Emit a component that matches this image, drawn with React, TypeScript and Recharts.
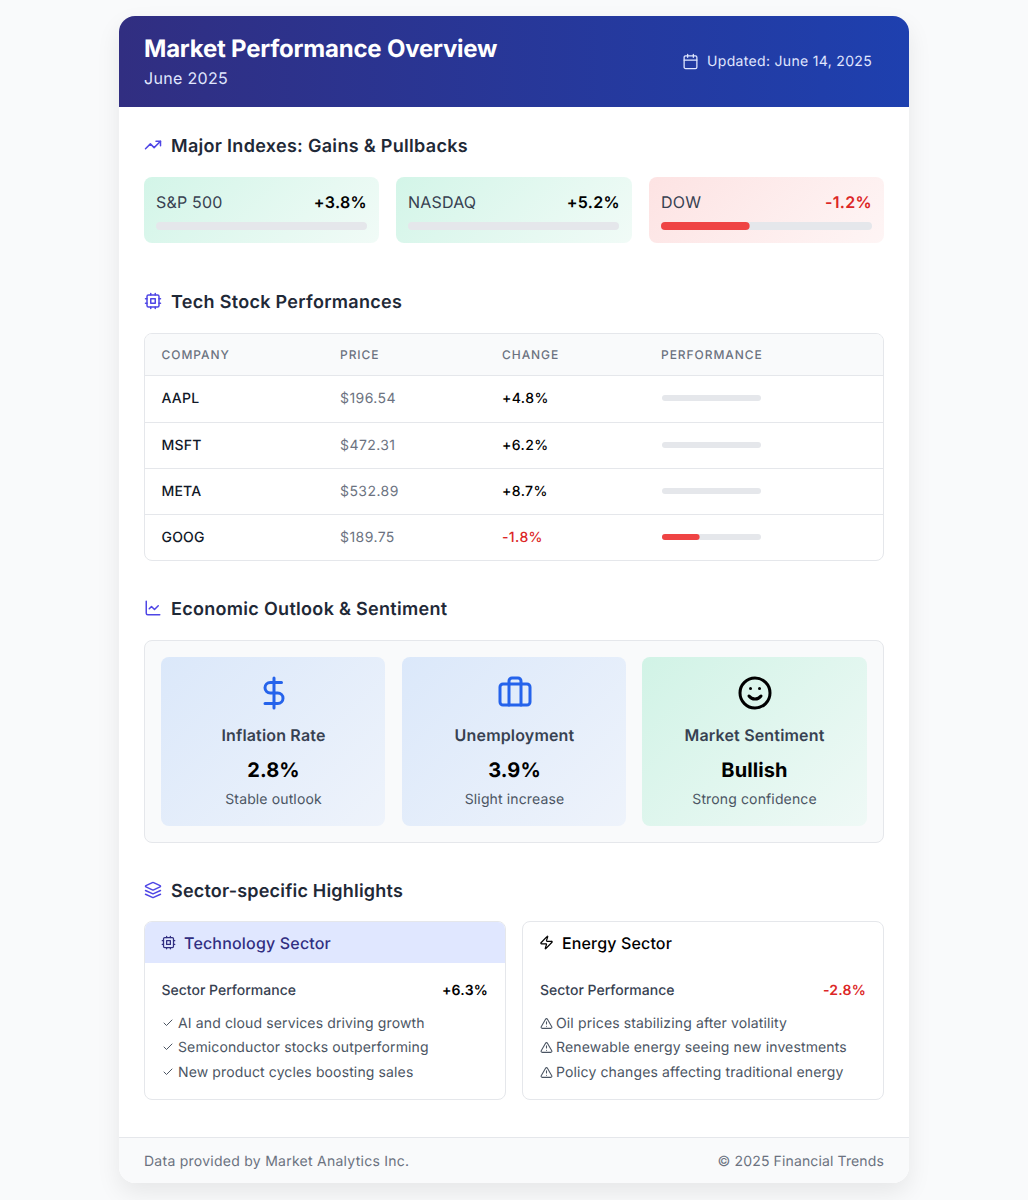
import React from "react";
import { Bar, BarChart, XAxis, YAxis } from "recharts";

const indexNames = ["S&P 500", "NASDAQ", "DOW"];
const indexChanges = ["+3.8%", "+5.2%", "-1.2%"];
const indexFills = [0, 0, 42];

const stockNames = ["AAPL", "MSFT", "META", "GOOG"];
const stockPrices = ["$196.54", "$472.31", "$532.89", "$189.75"];
const stockChanges = ["+4.8%", "+6.2%", "+8.7%", "-1.8%"];
const stockFills = [0, 0, 0, 38];
const tableHeaders = ["Company", "Price", "Change", "Performance"];

const outlookNames = ["Inflation Rate", "Unemployment", "Market Sentiment"];
const outlookValues = ["2.8%", "3.9%", "Bullish"];
const outlookNotes = ["Stable outlook", "Slight increase", "Strong confidence"];

const techPoints = [
  "AI and cloud services driving growth",
  "Semiconductor stocks outperforming",
  "New product cycles boosting sales",
];
const energyPoints = [
  "Oil prices stabilizing after volatility",
  "Renewable energy seeing new investments",
  "Policy changes affecting traditional energy",
];

const FONT = "Inter, sans-serif";
const RED = "#dc2626";

const sizeNudge = (size: number) => (size === 16 || size === 24 || size === 20 ? 0 : size === 18 ? 1.5 : 1);

// text placed by its vertical centre
const T = ({ x, right, cy, size, weight = 400, color = "#000", spacing, center, children }: any) => (
  <div
    style={{
      position: "absolute",
      left: center !== undefined ? center - 150 : x,
      right: right !== undefined ? 1028 - right : undefined,
      width: center !== undefined ? 300 : undefined,
      textAlign: center !== undefined ? "center" : undefined,
      top: cy - 15 + sizeNudge(size),
      height: 30,
      lineHeight: "30px",
      fontSize: size,
      fontWeight: weight,
      color,
      letterSpacing: spacing,
      whiteSpace: "nowrap",
    }}
  >
    {children}
  </div>
);

const Box = ({ x, y, w, h, style, children }: any) => (
  <div style={{ position: "absolute", left: x, top: y, width: w, height: h, boxSizing: "border-box", ...style }}>
    {children}
  </div>
);

const ProgressBar = ({ x, y, width, height, value }: any) => (
  <div style={{ position: "absolute", left: x, top: y, width, height }}>
    <BarChart
      width={width}
      height={height}
      layout="vertical"
      data={[{ name: "fill", track: 100, value }]}
      margin={{ top: 0, right: 0, bottom: 0, left: 0 }}
      barCategoryGap={0}
      barGap="-100%"
    >
      <XAxis type="number" domain={[0, 100]} hide />
      <YAxis type="category" dataKey="name" hide />
      <Bar dataKey="track" fill="#e5e7eb" radius={height / 2} isAnimationActive={false} />
      <Bar dataKey="value" fill="#ef4444" radius={height / 2} isAnimationActive={false} />
    </BarChart>
  </div>
);

const Icon = ({ x, y, size, color, width = 2, children }: any) => (
  <svg
    style={{ position: "absolute", left: x, top: y }}
    width={size}
    height={size}
    viewBox="0 0 24 24"
    fill="none"
    stroke={color}
    strokeWidth={width}
    strokeLinecap="round"
    strokeLinejoin="round"
  >
    {children}
  </svg>
);

const cpu = (
  <>
    <rect x="4" y="4" width="16" height="16" rx="2" />
    <rect x="9" y="9" width="6" height="6" />
    <path d="M15 2v2M15 20v2M2 15h2M2 9h2M20 15h2M20 9h2M9 2v2M9 20v2" />
  </>
);
const check = <path d="M20 6 9 17l-5-5" />;
const warning = (
  <>
    <path d="m21.73 18-8-14a2 2 0 0 0-3.48 0l-8 14A2 2 0 0 0 4 21h16a2 2 0 0 0 1.73-3Z" />
    <path d="M12 9v4M12 17h.01" />
  </>
);
const outlookIcons = [
  <>
    <path d="M12 2v20" />
    <path d="M17 5H9.5a3.5 3.5 0 0 0 0 7h5a3.5 3.5 0 0 1 0 7H6" />
  </>,
  <>
    <path d="M16 20V4a2 2 0 0 0-2-2h-4a2 2 0 0 0-2 2v16" />
    <rect x="2" y="6" width="20" height="14" rx="2" />
  </>,
  <>
    <circle cx="12" cy="12" r="10" />
    <path d="M8 14s1.5 2 4 2 4-2 4-2M9 9h.01M15 9h.01" />
  </>,
];

const sectionTitle = (text: string, cy: number, icon: any, spacing = 0.3) => (
  <>
    <Icon x={144} y={cy - 9} size={18} color="#4f46e5">
      {icon}
    </Icon>
    <T x={171} cy={cy} size={18} weight={600} color="#1f2937" spacing={spacing}>
      {text}
    </T>
  </>
);

const indexX = [144, 396, 649];
const columnX = [161.5, 340, 502, 661];
const rowCy = [398, 445, 491, 537];
const outlookX = [161, 402, 642];

export default function App() {
  return (
    <div
      style={{
        position: "absolute",
        left: 0,
        top: 0,
        width: 1028,
        height: 1200,
        overflow: "hidden",
        background: "#f9fafb",
        fontFamily: FONT,
        textRendering: "geometricPrecision",
      }}
    >
      <Box
        x={119}
        y={16}
        w={790}
        h={1167}
        style={{
          background: "#fff",
          borderRadius: 16,
          boxShadow: "0 10px 25px rgba(0,0,0,0.08)",
        }}
      />
      <Box
        x={119}
        y={16}
        w={790}
        h={91}
        style={{
          background: "linear-gradient(90deg, #312e81, #1e40af)",
          borderRadius: "16px 16px 0 0",
        }}
      />
      <T x={144} cy={49} size={24} weight={700} color="#fff" spacing={-0.22}>
        Market Performance Overview
      </T>
      <T x={144} cy={78} size={16} color="#e0e7ff" spacing={0.33}>
        June 2025
      </T>
      <Icon x={682} y={53} size={17} color="#e0e7ff" width={1.8}>
        <path d="M8 2v4M16 2v4M3 10h18" />
        <rect x="3" y="4" width="18" height="18" rx="2" />
      </Icon>
      <T right={872} cy={61} size={14} color="#e0e7ff" spacing={0.32}>
        Updated: June 14, 2025
      </T>

      {sectionTitle("Major Indexes: Gains & Pullbacks", 145, (
        <>
          <path d="M22 7 13.5 15.5 8.5 10.5 2 17" />
          <path d="M16 7h6v6" />
        </>
      ))}
      {indexNames.map((name, i) => {
        const down = indexChanges[i].startsWith("-");
        return (
          <React.Fragment key={name}>
            <Box
              x={indexX[i]}
              y={177}
              w={i === 1 ? 236 : 235}
              h={66}
              style={{
                borderRadius: 8,
                background: down
                  ? "linear-gradient(135deg, #fde3e3, #fef5f5)"
                  : "linear-gradient(135deg, #d3f5e8, #f1fbf7)",
              }}
            />
            <T x={indexX[i] + 12} cy={202} size={16} color="#374151" spacing={0.2}>
              {name}
            </T>
            <T right={indexX[i] + (i === 1 ? 224 : 223)} cy={202} size={16} weight={600} color={down ? RED : "#000"} spacing={0.35}>
              {indexChanges[i]}
            </T>
            <ProgressBar x={indexX[i] + 12} y={222} width={211} height={8} value={indexFills[i]} />
          </React.Fragment>
        );
      })}

      {sectionTitle("Tech Stock Performances", 301, cpu)}
      <Box
        x={144}
        y={333}
        w={740}
        h={228}
        style={{ border: "1px solid #e5e7eb", borderRadius: 8, overflow: "hidden" }}
      >
        <div style={{ height: 41, background: "#f9fafb", borderBottom: "1px solid #e5e7eb" }} />
      </Box>
      {tableHeaders.map((h, i) => (
        <T key={h} x={columnX[i]} cy={354} size={12} weight={500} color="#6b7280" spacing={0.95}>
          {h.toUpperCase()}
        </T>
      ))}
      {stockNames.map((name, i) => {
        const down = stockChanges[i].startsWith("-");
        return (
          <React.Fragment key={name}>
            {i > 0 && <Box x={145} y={rowCy[i] - 23} w={738} h={1} style={{ background: "#e5e7eb" }} />}
            <T x={columnX[0]} cy={rowCy[i]} size={14} weight={500} color="#111827" spacing={0.2}>
              {name}
            </T>
            <T x={columnX[1]} cy={rowCy[i]} size={14} color="#6b7280" spacing={0.43}>
              {stockPrices[i]}
            </T>
            <T x={columnX[2]} cy={rowCy[i]} size={14} weight={500} color={down ? RED : "#000"} spacing={0.4}>
              {stockChanges[i]}
            </T>
            <ProgressBar x={662} y={rowCy[i] - 3} width={99} height={6} value={stockFills[i]} />
          </React.Fragment>
        );
      })}

      {sectionTitle("Economic Outlook & Sentiment", 608, (
        <>
          <path d="M3 3v16a2 2 0 0 0 2 2h16" />
          <path d="m19 9-5 5-4-4-3 3" />
        </>
      ))}
      <Box
        x={144}
        y={640}
        w={740}
        h={203}
        style={{ border: "1px solid #e5e7eb", borderRadius: 8, background: "#f9fafb" }}
      />
      {outlookNames.map((name, i) => {
        const c = outlookX[i] + 112.5;
        return (
          <React.Fragment key={name}>
            <Box
              x={outlookX[i]}
              y={657}
              w={i === 2 ? 225 : 224}
              h={169}
              style={{
                borderRadius: 8,
                background:
                  i === 2
                    ? "linear-gradient(135deg, #d1f3e6, #eff9f6)"
                    : "linear-gradient(135deg, #dbe8fa, #eef3fb)",
              }}
            />
            <Icon x={c - 18} y={675} size={36} color={i === 2 ? "#000" : "#2563eb"}>
              {outlookIcons[i]}
            </Icon>
            <T center={c} cy={735} size={16} weight={600} color="#374151" spacing={0.17}>
              {name}
            </T>
            <T center={c} cy={770} size={20} weight={700} color="#000" spacing={0.1}>
              {outlookValues[i]}
            </T>
            <T center={c} cy={799} size={14} color="#4b5563" spacing={0.13}>
              {outlookNotes[i]}
            </T>
          </React.Fragment>
        );
      })}

      {sectionTitle("Sector-specific Highlights", 890, (
        <>
          <path d="m12.83 2.18a2 2 0 0 0-1.66 0L2.6 6.08a1 1 0 0 0 0 1.83l8.58 3.91a2 2 0 0 0 1.66 0l8.58-3.9a1 1 0 0 0 0-1.83Z" />
          <path d="m22 17.65-9.17 4.16a2 2 0 0 1-1.66 0L2 17.65" />
          <path d="m22 12.65-9.17 4.16a2 2 0 0 1-1.66 0L2 12.65" />
        </>
      ), 0.2)}
      <Box x={144} y={921} w={362} h={179} style={{ border: "1px solid #e5e7eb", borderRadius: 8, overflow: "hidden" }}>
        <div style={{ height: 42, background: "#e0e7ff", margin: -1 }} />
      </Box>
      <Box x={522} y={921} w={362} h={179} style={{ border: "1px solid #e5e7eb", borderRadius: 8 }} />
      <Icon x={161} y={935} size={15} color="#312e81">
        {cpu}
      </Icon>
      <T x={184} cy={943} size={16} weight={500} color="#312e81" spacing={0.18}>
        Technology Sector
      </T>
      <Icon x={539} y={935} size={15} color="#000">
        <path d="M4 14a1 1 0 0 1-.78-1.63l9.9-10.2a.5.5 0 0 1 .86.46l-1.92 6.02A1 1 0 0 0 13 10h7a1 1 0 0 1 .78 1.63l-9.9 10.2a.5.5 0 0 1-.86-.46l1.92-6.02A1 1 0 0 0 11 14z" />
      </Icon>
      <T x={562} cy={943} size={16} weight={500} color="#000" spacing={0.15}>
        Energy Sector
      </T>
      <T x={161.5} cy={990} size={14} weight={500} color="#374151">
        Sector Performance
      </T>
      <T right={488} cy={990} size={14} weight={600} color="#000" spacing={0.2}>
        +6.3%
      </T>
      <T x={540} cy={990} size={14} weight={500} color="#374151">
        Sector Performance
      </T>
      <T right={866} cy={990} size={14} weight={600} color={RED} spacing={0.2}>
        -2.8%
      </T>
      {[1023, 1047, 1072].map((cy, i) => (
        <React.Fragment key={cy}>
          <Icon x={162} y={cy - 6} size={12} color="#4b5563">
            {check}
          </Icon>
          <T x={178} cy={cy} size={14} color="#4b5563" spacing={0.13}>
            {techPoints[i]}
          </T>
          <Icon x={540} y={cy - 6} size={13} color="#4b5563">
            {warning}
          </Icon>
          <T x={556} cy={cy} size={14} color="#4b5563" spacing={0.13}>
            {energyPoints[i]}
          </T>
        </React.Fragment>
      ))}

      <Box
        x={119}
        y={1137}
        w={790}
        h={46}
        style={{ background: "#f9fafb", borderTop: "1px solid #e5e7eb", borderRadius: "0 0 16px 16px" }}
      />
      <T x={144} cy={1161} size={14} color="#6b7280" spacing={0.26}>
        Data provided by Market Analytics Inc.
      </T>
      <T right={884} cy={1161} size={14} color="#6b7280" spacing={0.13}>
        © 2025 Financial Trends
      </T>
    </div>
  );
}
